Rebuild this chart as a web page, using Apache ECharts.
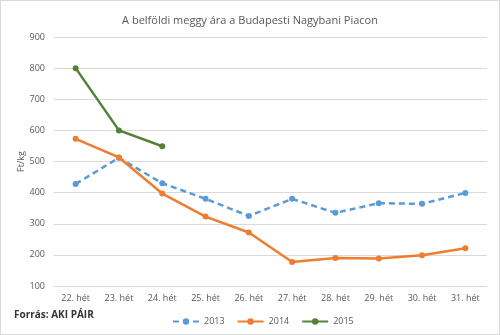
<!DOCTYPE html>
<html><head><meta charset="utf-8">
<script src="https://cdn.jsdelivr.net/npm/echarts@6/dist/echarts.min.js"></script>
<style>html,body{margin:0;padding:0;background:#fff}#c{width:500px;height:335px;box-sizing:border-box;border:1px solid #d9d9d9}</style>
</head><body><div id="c"></div>
<script>
var categories = ['22. hét','23. hét','24. hét','25. hét','26. hét','27. hét','28. hét','29. hét','30. hét','31. hét'];
var s2013 = [428, 512, 430, 380, 325, 380, 335, 366, 364, 399];
var s2014 = [573, 513, 397, 323, 272, 177, 190, 188, 199, 221];
var s2015 = [800, 600, 549, null, null, null, null, null, null, null];
var yTicks = {min: 100, max: 900, interval: 100};
var font = 'Open Sans, Liberation Sans, sans-serif';
var chart = echarts.init(document.getElementById('c'));
function ser(name, data, color, dashed) {
  return {name: name, type: 'line', data: data, symbol: 'circle', symbolSize: 6,
    lineStyle: {color: color, width: 2.5, type: dashed ? [6, 4] : 'solid'},
    itemStyle: {color: color}, connectNulls: false, animation: false};
}
chart.setOption({
  animation: false,
  title: {text: 'A belföldi meggy ára a Budapesti Nagybani Piacon', left: 'center', top: 9,
    textStyle: {fontFamily: font, fontSize: 11, fontWeight: 'normal', color: '#595959'}},
  graphic: [{type: 'text', left: 13, top: 309, style: {text: 'Forrás: AKI PÁIR', font: 'bold 10px ' + font, fill: '#333'}}],
  legend: {bottom: 3, left: 166, itemWidth: 26, itemHeight: 8, itemGap: 12,
    textStyle: {fontFamily: font, fontSize: 9, color: '#595959'},
    data: ['2013', '2014', '2015']},
  grid: {left: 53, right: 12, top: 36, bottom: 48},
  xAxis: {type: 'category', data: categories, boundaryGap: true,
    axisLine: {show: false}, axisTick: {show: false},
    axisLabel: {fontFamily: font, fontSize: 9, color: '#595959', margin: 8}},
  yAxis: {type: 'value', min: yTicks.min, max: yTicks.max, interval: yTicks.interval,
    name: 'Ft/kg', nameLocation: 'middle', nameGap: 28, nameRotate: 90, nameMoveOverlap: false,
    nameTextStyle: {fontFamily: font, fontSize: 9, color: '#595959'},
    axisLine: {show: false}, axisTick: {show: false},
    axisLabel: {fontFamily: font, fontSize: 9, color: '#595959', margin: 9},
    splitLine: {lineStyle: {color: '#d9d9d9', width: 1}}},
  series: [ser('2013', s2013, '#5b9bd5', true), ser('2014', s2014, '#ed7d31', false), ser('2015', s2015, '#548235', false)]
});
</script></body></html>
